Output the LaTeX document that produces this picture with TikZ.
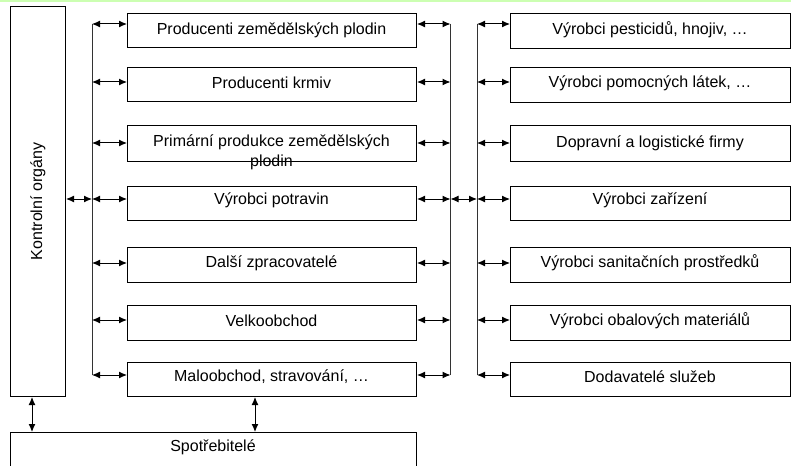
\documentclass[tikz,border=0pt]{standalone}
\usepackage{fontspec}
\setmainfont{Liberation Sans}
\usetikzlibrary{arrows.meta}
\begin{document}
\begin{tikzpicture}[x=1pt,y=-1pt,
  box/.style={draw=black, line width=1pt, rectangle, inner sep=0pt, anchor=north west},
  lbl/.style={font=\fontsize{16}{20}\selectfont, inner sep=0pt, align=center},
  bus/.style={draw=black!80, line width=1pt},
  link/.style={draw=black, line width=1pt, {Latex[length=8pt,width=7pt]}-{Latex[length=8pt,width=7pt]}}]
\useasboundingbox (0,0) rectangle (791,465);
\fill[white] (0,0) rectangle (791,465);
% thin green rule along the top edge
\fill[green!55!lime!30] (0,0) rectangle (791,2);

% control bodies (tall box, rotated caption)
\node[box, minimum width=55pt, minimum height=390pt] (ko) at (10,6) {};
\node[lbl, rotate=90] at (ko.center) {Kontrolní orgány};

% consumers (runs past the lower edge)
\node[box, minimum width=406pt, minimum height=40pt] (sp) at (10,432) {};
\node[lbl] at (213,447) {Spotřebitelé};

% food chain column
\node[box, minimum width=289pt, minimum height=34pt] (a1) at (127,13) {};
\node[box, minimum width=289pt, minimum height=34pt] (a2) at (127,67) {};
\node[box, minimum width=289pt, minimum height=36pt] (a3) at (127,125) {};
\node[box, minimum width=289pt, minimum height=34pt] (a4) at (127,186) {};
\node[box, minimum width=289pt, minimum height=35pt] (a5) at (127,247) {};
\node[box, minimum width=289pt, minimum height=35pt] (a6) at (127,305) {};
\node[box, minimum width=289pt, minimum height=34pt] (a7) at (127,362) {};
\node[lbl] at (271.5,30) {Producenti zemědělských plodin};
\node[lbl] at (271.5,83) {Producenti krmiv};
\node[lbl] at (271.5,152) {Primární produkce zemědělských\\plodin};
\node[lbl] at (271.5,200) {Výrobci potravin};
\node[lbl] at (271.5,263) {Další zpracovatelé};
\node[lbl] at (271.5,321) {Velkoobchod};
\node[lbl] at (271.5,377) {Maloobchod, stravování, …};

% suppliers column
\node[box, minimum width=279.5pt, minimum height=35pt] (b1) at (510,13) {};
\node[box, minimum width=279.5pt, minimum height=35pt] (b2) at (510,67) {};
\node[box, minimum width=279.5pt, minimum height=36pt] (b3) at (510,125) {};
\node[box, minimum width=279.5pt, minimum height=34pt] (b4) at (510,186) {};
\node[box, minimum width=279.5pt, minimum height=35pt] (b5) at (510,247) {};
\node[box, minimum width=279.5pt, minimum height=35pt] (b6) at (510,305) {};
\node[box, minimum width=279.5pt, minimum height=34pt] (b7) at (510,362) {};
\node[lbl] at (650,30) {Výrobci pesticidů, hnojiv, …};
\node[lbl] at (650,83) {Výrobci pomocných látek, …};
\node[lbl] at (650,143) {Dopravní a logistické firmy};
\node[lbl] at (650,200) {Výrobci zařízení};
\node[lbl] at (650,263) {Výrobci sanitačních prostředků};
\node[lbl] at (650,321) {Výrobci obalových materiálů};
\node[lbl] at (650,377) {Dodavatelé služeb};

% tap points on the three vertical buses
\foreach \i/\y in {1/24,2/82,3/143,4/199,5/263,6/320,7/375}{
  \coordinate (L\i) at (92,\y);
  \coordinate (M\i) at (450.5,\y);
  \coordinate (R\i) at (477,\y);
}
\draw[bus] (L1) -- (L7);
\draw[bus] (M1) -- (M7);
\draw[bus] (R1) -- (R7);

% links from each box to its bus
\foreach \i in {1,...,7}{
  \draw[link] (L\i) -- (a\i.west |- L\i);
  \draw[link] (a\i.east |- M\i) -- (M\i);
  \draw[link] (R\i) -- (b\i.west |- R\i);
}
% cross links on the middle row
\draw[link] (ko.east |- L4) -- (L4);
\draw[link] (M4) -- (R4);

% links down to the consumers
\draw[link] (ko.south -| 32,0) -- (sp.north -| 32,0);
\draw[link] (a7.south -| 255,0) -- (sp.north -| 255,0);
\end{tikzpicture}
\end{document}
